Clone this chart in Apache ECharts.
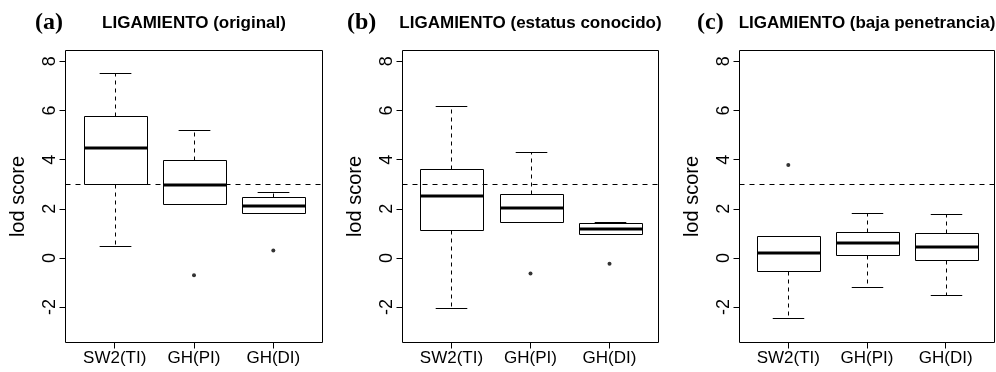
<!DOCTYPE html>
<html>
<head>
<meta charset="utf-8">
<script src="https://cdn.jsdelivr.net/npm/echarts@6/dist/echarts.min.js"></script>
<style>
html,body{margin:0;padding:0;background:#fff;}
#chart{width:996px;height:372px;}
</style>
</head>
<body>
<div id="chart"></div>
<script>
// ---- data ----
const categories = ['SW2(TI)', 'GH(PI)', 'GH(DI)'];
const panelTags = ['(a)', '(b)', '(c)'];
const panelTitles = ['LIGAMIENTO (original)', 'LIGAMIENTO (estatus conocido)', 'LIGAMIENTO (baja penetrancia)'];
const yTicks = [-2, 0, 2, 4, 6, 8];
const threshold = 3;
// [lower whisker, Q1, median, Q3, upper whisker] per category
const statsA = [[0.50, 3.01, 4.47, 5.76, 7.51], [2.18, 2.18, 2.97, 4.00, 5.19], [1.83, 1.83, 2.10, 2.48, 2.69]];
const statsB = [[-2.03, 1.14, 2.51, 3.61, 6.17], [1.47, 1.47, 2.05, 2.61, 4.30], [0.98, 0.98, 1.18, 1.41, 1.47]];
const statsC = [[-2.45, -0.55, 0.22, 0.88, 0.88], [-1.19, 0.10, 0.59, 1.07, 1.82], [-1.49, -0.07, 0.43, 1.00, 1.79]];
// outliers: [category, value]
const outliersA = [['GH(PI)', -0.70], ['GH(DI)', 0.30]];
const outliersB = [['GH(PI)', -0.63], ['GH(DI)', -0.24]];
const outliersC = [['SW2(TI)', 3.78]];

const allStats = [statsA, statsB, statsC];
const allOutliers = [outliersA, outliersB, outliersC];

// ---- layout ----
const grids = [
  {left: 65.5, top: 50.5, width: 257, height: 292},
  {left: 402.5, top: 50.5, width: 256, height: 292},
  {left: 739.5, top: 50.5, width: 255, height: 292}
];
const tagX = [35, 347, 697];
const FONT = 'Liberation Sans, Arial, Helvetica, sans-serif';

function renderBox(params, api) {
  const x = api.value(0);
  const w = api.size([0.8, 0])[0];
  const p = [1, 2, 3, 4, 5].map(k => api.coord([x, api.value(k)]));
  const cx = Math.round(p[0][0]) + 0.5;
  const ys = p.map(q => Math.round(q[1]) + 0.5);
  const half = w / 2, st = w / 4;
  const black = '#000';
  const children = [];
  children.push({type: 'line', shape: {x1: cx, y1: ys[3], x2: cx, y2: ys[4]}, style: {stroke: black, lineWidth: 1, lineDash: [4, 4]}});
  children.push({type: 'line', shape: {x1: cx, y1: ys[1], x2: cx, y2: ys[0]}, style: {stroke: black, lineWidth: 1, lineDash: [4, 4]}});
  children.push({type: 'line', shape: {x1: cx - st, y1: ys[4], x2: cx + st, y2: ys[4]}, style: {stroke: black, lineWidth: 1}});
  children.push({type: 'line', shape: {x1: cx - st, y1: ys[0], x2: cx + st, y2: ys[0]}, style: {stroke: black, lineWidth: 1}});
  const bx = Math.round(cx - half) + 0.5, bw = Math.round(w);
  children.push({type: 'rect', shape: {x: bx, y: ys[3], width: bw, height: ys[1] - ys[3]}, style: {fill: '#fff', stroke: black, lineWidth: 1}});
  children.push({type: 'line', shape: {x1: bx, y1: Math.round(p[2][1]), x2: bx + bw, y2: Math.round(p[2][1])}, style: {stroke: black, lineWidth: 3}});
  return {type: 'group', children};
}

const option = {
  backgroundColor: '#fff',
  animation: false,
  grid: grids.map(g => Object.assign({show: true, borderColor: '#000', borderWidth: 1, backgroundColor: 'transparent', containLabel: false}, g)),
  xAxis: grids.map((g, i) => ({
    type: 'value', gridIndex: i, min: 0.38, max: 3.62, position: 'bottom',
    axisLine: {show: false, onZero: false},
    splitLine: {show: false},
    axisTick: {show: true, length: 6, customValues: [1, 2, 3], lineStyle: {color: '#000', width: 1}},
    axisLabel: {show: true, customValues: [1, 2, 3], margin: 7, color: '#000', fontSize: 17, fontFamily: FONT,
      formatter: v => categories[Math.round(v) - 1]}
  })),
  yAxis: grids.map((g, i) => ({
    type: 'value', gridIndex: i, min: -3.44, max: 8.44, position: 'left',
    name: 'lod score', nameLocation: 'middle', nameGap: 37, nameRotate: 90,
    nameTextStyle: {color: '#000', fontSize: 20, fontFamily: FONT},
    axisLine: {show: false, onZero: false},
    splitLine: {show: false},
    axisTick: {show: true, length: 6, customValues: yTicks, lineStyle: {color: '#000', width: 1}},
    axisLabel: {show: true, customValues: yTicks, rotate: 90, margin: 6, color: '#000', fontSize: 18, fontFamily: FONT}
  })),
  series: [],
  graphic: []
};

allStats.forEach((stats, i) => {
  option.series.push({
    type: 'custom', xAxisIndex: i, yAxisIndex: i,
    renderItem: renderBox,
    encode: {x: 0, y: [1, 2, 3, 4, 5]},
    data: stats.map((s, k) => [k + 1].concat(s)),
    silent: true, z: 2
  });
  option.series.push({
    type: 'scatter', xAxisIndex: i, yAxisIndex: i,
    symbol: 'circle', symbolSize: 4,
    itemStyle: {color: '#000'},
    data: allOutliers[i].map(o => [categories.indexOf(o[0]) + 1, o[1]]),
    silent: true, z: 3,
    markLine: {
      silent: true, symbol: 'none', label: {show: false},
      lineStyle: {color: '#000', type: [5, 5], width: 1},
      data: [{yAxis: threshold}]
    }
  });
  const g = grids[i];
  option.graphic.push({
    type: 'text', x: g.left + g.width / 2, y: 23,
    style: {text: panelTitles[i], font: 'bold 17px ' + FONT, fill: '#000', textAlign: 'center', textVerticalAlign: 'middle'}
  });
  option.graphic.push({
    type: 'text', x: tagX[i], y: 23,
    style: {text: panelTags[i], font: 'bold 24px "Liberation Serif", "Times New Roman", serif', fill: '#000', textAlign: 'left', textVerticalAlign: 'middle'}
  });
});

const chart = echarts.init(document.getElementById('chart'), null, {renderer: 'canvas'});
chart.setOption(option);
</script>
</body>
</html>
